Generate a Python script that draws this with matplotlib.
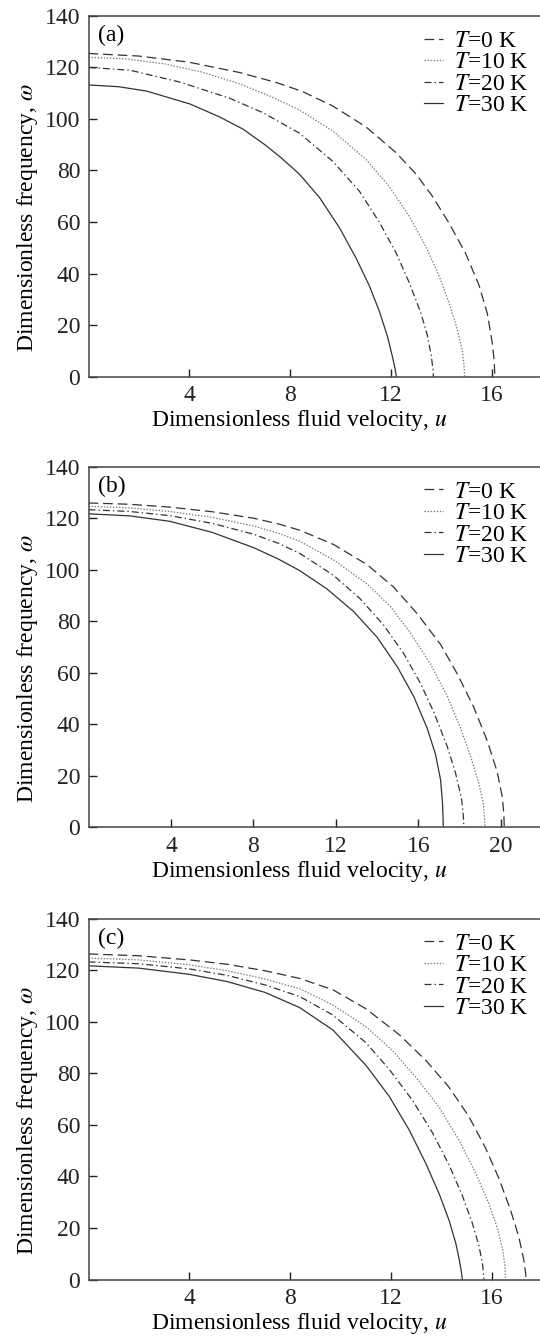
import numpy as np
import matplotlib
matplotlib.use("Agg")
import matplotlib.pyplot as plt

plt.rcParams['font.family'] = ['Liberation Serif', 'DejaVu Serif']
plt.rcParams['mathtext.fontset'] = 'stix'
plt.rcParams['font.size'] = 17
plt.rcParams['lines.scale_dashes'] = False

# dispersion curves, omega vs u, for the three cases (a), (b), (c)
temps = ["0", "10", "20", "30"]

a_u0 = [0, 2.0, 4.0, 6.0, 7.5, 8.5, 9.7, 11.0, 12.2, 13.0, 13.65, 14.31, 14.97, 15.5, 15.83, 16.02, 16.1, 16.13]
a_w0 = [125.4, 124.4, 122.0, 118.0, 114.0, 110.6, 105.0, 97.0, 87.0, 78.6, 70.0, 59.6, 47.8, 35.5, 24.5, 13.5, 6.5, 0]
a_u10 = [0, 1.5, 3.0, 4.5, 6.0, 7.2, 8.37, 9.7, 11.02, 11.94, 12.73, 13.39, 13.92, 14.31, 14.64, 14.84, 14.9, 14.93]
a_w10 = [123.9, 123.3, 121.4, 118.2, 113.6, 108.9, 103.5, 95.3, 84.2, 73.8, 62.2, 50.5, 39.0, 28.6, 18.3, 10.0, 5.0, 0]
a_u20 = [0, 1.65, 3.63, 5.61, 6.93, 8.37, 9.7, 10.75, 11.54, 12.2, 12.73, 13.19, 13.45, 13.6, 13.67, 13.69]
a_w20 = [120.0, 118.9, 114.3, 108.0, 102.4, 94.5, 83.5, 72.0, 60.0, 48.2, 36.5, 24.8, 16.0, 8.5, 3.0, 0]
a_u30 = [0, 1.2, 2.31, 4.03, 5.2, 6.14, 7.0, 7.59, 8.37, 9.17, 9.96, 10.62, 11.15, 11.54, 11.87, 12.07, 12.17, 12.22]
a_w30 = [113.2, 112.5, 110.8, 105.8, 100.8, 96.0, 90.0, 85.4, 78.6, 69.5, 57.8, 46.0, 35.2, 25.5, 15.5, 7.5, 3.0, 0]

b_u0 = [0, 2.0, 3.94, 6.0, 8.0, 9.2, 10.26, 11.89, 13.51, 14.8, 15.94, 17.08, 17.89, 18.7, 19.35, 19.83, 20.08, 20.15, 20.17]
b_w0 = [125.9, 125.4, 124.3, 122.5, 120.0, 117.8, 115.3, 109.8, 102.0, 93.3, 83.0, 71.0, 59.6, 46.5, 33.5, 21.5, 11.5, 5.0, 0]
b_u10 = [0, 2.0, 3.94, 6.0, 8.0, 9.2, 10.26, 11.89, 13.51, 14.64, 15.62, 16.59, 17.4, 18.05, 18.54, 18.94, 19.15, 19.21, 19.23]
b_w10 = [124.6, 124.0, 122.6, 120.3, 117.0, 114.2, 111.0, 103.8, 94.5, 85.8, 75.5, 63.4, 51.0, 38.5, 27.5, 17.0, 9.5, 4.0, 0]
b_u20 = [0, 2.0, 3.94, 6.0, 8.0, 9.2, 10.26, 11.89, 13.18, 14.32, 15.29, 16.1, 16.75, 17.4, 17.81, 18.1, 18.18, 18.21]
b_w20 = [123.3, 122.6, 121.0, 118.0, 113.8, 110.3, 106.3, 97.8, 88.7, 78.5, 67.5, 56.0, 44.8, 31.5, 21.0, 11.0, 5.0, 0]
b_u30 = [0, 2.0, 3.94, 6.0, 8.0, 9.2, 10.26, 11.56, 12.86, 14.0, 14.97, 15.78, 16.43, 16.83, 17.08, 17.17, 17.2, 17.21]
b_w30 = [121.7, 120.9, 118.8, 114.5, 108.6, 104.2, 99.6, 92.6, 83.8, 73.8, 62.5, 50.8, 38.5, 28.5, 18.5, 10.0, 4.0, 0]

c_u0 = [0, 2.0, 4.0, 5.5, 7.0, 8.38, 9.7, 11.02, 12.33, 13.39, 14.31, 15.1, 15.76, 16.29, 16.75, 17.08, 17.28, 17.35, 17.37]
c_w0 = [126.3, 125.6, 124.0, 122.3, 119.8, 116.8, 112.4, 105.0, 95.0, 85.0, 74.6, 63.2, 51.0, 39.2, 27.0, 16.5, 7.5, 2.5, 0]
c_u10 = [0, 2.0, 4.0, 5.5, 7.0, 8.38, 9.7, 11.02, 12.07, 12.99, 13.92, 14.71, 15.37, 15.89, 16.26, 16.45, 16.53, 16.55]
c_w10 = [124.7, 124.0, 122.1, 119.8, 116.6, 112.8, 106.5, 98.0, 88.8, 78.5, 66.8, 54.0, 41.2, 29.5, 19.0, 11.0, 5.0, 0]
c_u20 = [0, 2.0, 4.0, 5.5, 7.0, 8.38, 9.7, 11.02, 11.94, 12.86, 13.65, 14.31, 14.84, 15.23, 15.5, 15.64, 15.7]
c_w20 = [123.2, 122.5, 120.5, 118.0, 114.3, 109.8, 102.6, 91.8, 81.5, 69.5, 57.0, 44.5, 32.5, 22.0, 13.0, 6.0, 0]
c_u30 = [0, 2.0, 4.0, 5.5, 7.0, 8.38, 9.7, 11.02, 11.94, 12.73, 13.39, 13.92, 14.31, 14.58, 14.72, 14.8, 14.84]
c_w30 = [121.7, 120.8, 118.4, 115.6, 111.4, 105.5, 96.8, 83.0, 71.0, 58.0, 45.0, 33.2, 23.0, 14.0, 7.5, 3.0, 0]

panels = [
    ("(a)", [(a_u0, a_w0), (a_u10, a_w10), (a_u20, a_w20), (a_u30, a_w30)], 18, [4, 8, 12, 16]),
    ("(b)", [(b_u0, b_w0), (b_u10, b_w10), (b_u20, b_w20), (b_u30, b_w30)], 22, [4, 8, 12, 16, 20]),
    ("(c)", [(c_u0, c_w0), (c_u10, c_w10), (c_u20, c_w20), (c_u30, c_w30)], 18, [4, 8, 12, 16]),
]

styles = [
    dict(linestyle=(0, (7, 3.5)), color='#333333'),
    dict(linestyle=(0, (1, 1.2)), color='#777777'),
    dict(linestyle=(0, (5, 2.2, 1, 2.2)), color='#333333'),
    dict(linestyle='-', color='#333333'),
]

fig = plt.figure(figsize=(5.4, 13.38), dpi=100)
bottoms = [0.71846, 0.38154, 0.04372]

for (tag, curves, xmax, xt), bot in zip(panels, bottoms):
    ax = fig.add_axes([0.1639, bot, 0.8398, 0.2697])
    for (u, w), st, t in zip(curves, styles, temps):
        ax.plot(u, w, lw=0.9, label=r"$T$=" + t + " K", **st)
    ax.set_xlim(0, xmax)
    ax.set_ylim(0, 140)
    ax.set_xticks(xt)
    ax.set_yticks(range(0, 141, 20))
    ax.tick_params(direction='in', length=6, width=1, colors='#222222', pad=6)
    for s in ax.spines.values():
        s.set_linewidth(1.1)
        s.set_color('#444444')
    ax.spines['right'].set_visible(False)
    ax.set_xlabel(r"Dimensionless fluid velocity, $u$")
    ax.xaxis.set_label_coords(0.466, -0.088)
    ax.set_ylabel(r"Dimensionless frequency, $\omega$")
    ax.yaxis.set_label_coords(-0.108, 0.44)
    ax.text(0.02, 0.945, tag, transform=ax.transAxes, ha='left', va='center')
    ax.legend(loc='upper left', bbox_to_anchor=(0.74, 0.96), frameon=False,
              handlelength=0.8, handletextpad=0.45, labelspacing=0.0,
              borderaxespad=0, borderpad=0)

fig.savefig("out.png", dpi=100)
